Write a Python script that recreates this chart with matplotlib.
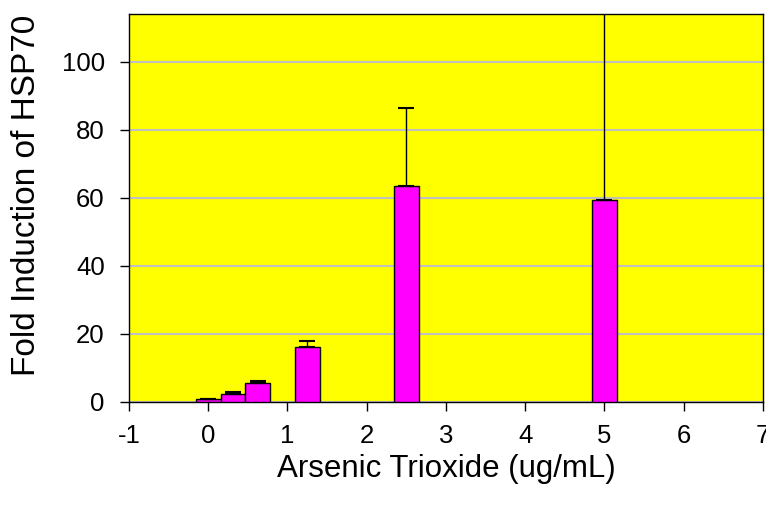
import matplotlib
matplotlib.use("Agg")
import matplotlib.pyplot as plt

conc = [0, 0.3125, 0.625, 1.25, 2.5, 5]
fold = [1.0, 2.4, 5.5, 16.1, 63.5, 59.3]
err_up = [0.0, 0.6, 0.6, 1.9, 22.8, 62.0]
xticks = [-1, 0, 1, 2, 3, 4, 5, 6, 7]
xticklabels = ['-1', '0', '1', '2', '3', '4', '5', '6', '7']
yticks = [0, 20, 40, 60, 80, 100]

plt.rcParams['font.family'] = ['Liberation Sans', 'DejaVu Sans']

fig = plt.figure(figsize=(7.66, 5.08), dpi=100)
ax = fig.add_axes([0.1684, 0.2087, 0.8276, 0.7637])
ax.set_facecolor('#FFFF00')
ax.set_axisbelow(True)
ax.yaxis.grid(True, color='#C0C0C0', linewidth=1.5)

ax.bar(conc, fold, width=0.31, color='#FF00FF', edgecolor='black', linewidth=1.0, zorder=3)
ax.errorbar(conc, fold, yerr=[[0]*len(err_up), err_up], fmt='none', ecolor='black',
            elinewidth=1.0, capsize=6, capthick=1.5, zorder=4)

ax.set_xlim(-1, 7)
ax.set_ylim(0, 114)
ax.set_xticks(xticks)
ax.set_xticklabels(xticklabels)
ax.set_yticks(yticks)
ax.tick_params(axis='both', direction='out', length=6.5, width=1, labelsize=18.5)
ax.tick_params(axis='x', pad=9)
ax.tick_params(axis='y', pad=11)
for s in ax.spines.values():
    s.set_color('black')
    s.set_linewidth(1)
ax.set_xlabel('Arsenic Trioxide (ug/mL)', fontsize=22.5, labelpad=5)
ax.set_ylabel('Fold Induction of HSP70', fontsize=24)
ax.yaxis.set_label_coords(-0.137, 0.533)

fig.savefig('out.png', dpi=100)
